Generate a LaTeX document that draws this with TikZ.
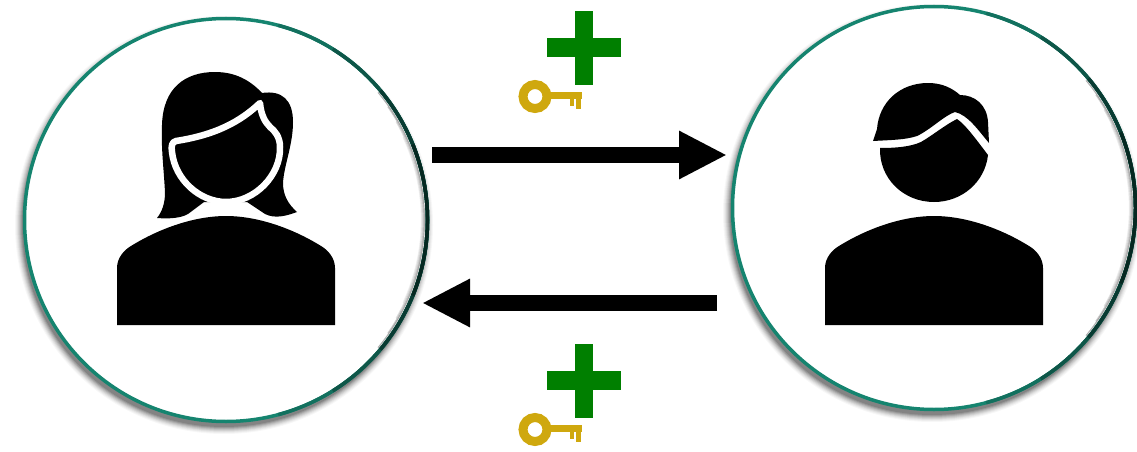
\documentclass[tikz,border=0pt]{standalone}
\usepackage{tikz}
\usetikzlibrary{arrows.meta,positioning,calc}
\usepackage{xcolor}
\definecolor{ringteal}{HTML}{15846F}
\definecolor{plusgreen}{HTML}{007F00}
\definecolor{keygold}{HTML}{CFA80E}

\begin{document}
\begin{tikzpicture}[
  x=1pt, y=-1pt,
  disc/.style={circle, draw=ringteal, fill=white, line width=3.5pt, minimum size=403pt, inner sep=0pt},
  silhouette/.style={fill=black},
  faceline/.style={draw=white, line width=6.5pt, line join=round},
  flow/.style={-{Triangle[length=48pt, width=45pt]}, line width=16pt},
  plusbar/.style={fill=plusgreen},
  keypart/.style={fill=keygold},
]
\useasboundingbox (0,0) rectangle (1137,452);

% ─── Soft shadows under the two circles ───
\foreach \r/\o in {209/.03,208/.04,207/.05,206/.07,205/.08,204/.10,203/.12,202/.14} {
  \fill[black, opacity=\o] (224,225) circle (\r);
  \fill[black, opacity=\o] (932,213) circle (\r);
}

% ─── Circles ───
\node[disc] (leftdisc) at (226,220) {};
\node[disc] (rightdisc) at (934,208) {};

% inner shade and darker rim towards the right
\foreach \cx/\cy in {226/220,934/208} {
  \foreach \r/\o/\a in {198.5/.30/40,197.5/.20/35,196.5/.12/30,195.5/.07/25} {
    \draw[black, opacity=\o, line width=1.2pt] (\cx,\cy) ++(-\a:\r) arc[start angle=-\a, end angle=\a, radius=\r];
  }
  \foreach \c/\a in {ringteal!85!black/75,ringteal!65!black/58,ringteal!45!black/40,ringteal!30!black/22} {
    \draw[\c, line width=3.5pt] (\cx,\cy) ++(-\a:201.5) arc[start angle=-\a, end angle=\a, radius=201.5];
  }
}

% ─── Left person ───
\fill[silhouette] (215,72) .. controls (185,72) and (163,88) .. (162,125)
  .. controls (161,150) and (164,170) .. (165,193) .. controls (165,203) and (162,212) .. (157,218)
  .. controls (170,219) and (181,218) .. (188,214) -- (204,202) -- (247,202) -- (265,214)
  .. controls (275,219) and (286,216) .. (297,212) .. controls (288,204) and (283,195) .. (283,183)
  .. controls (284,165) and (293,145) .. (293,122) .. controls (293,100) and (282,90) .. (262,93)
  .. controls (250,80) and (235,72) .. (215,72) -- cycle;
\draw[faceline] (260,103) .. controls (240,122) and (215,135) .. (176,141)
  .. controls (172,142) and (171,146) .. (172,152) .. controls (175,180) and (200,202) .. (226,202)
  .. controls (255,202) and (281,175) .. (280,147) .. controls (280,137) and (275,131) .. (270,127)
  .. controls (265,122) and (261,115) .. (260,103) -- cycle;
\fill[silhouette] (117,325) -- (117,268) .. controls (117,258) and (124,250) .. (131,246)
  .. controls (160,228) and (195,216) .. (226,216) .. controls (257,216) and (292,228) .. (321,246)
  .. controls (328,250) and (335,258) .. (335,268) -- (335,325) -- cycle;

% ─── Right person ───
\fill[silhouette] (873,141) -- (877,129) .. controls (879,102) and (900,83) .. (928,83)
  .. controls (942,83) and (952,88) .. (960,95) .. controls (975,95) and (987,105) .. (988,122)
  -- (989,143) .. controls (978,130) and (968,115) .. (955,112)
  .. controls (945,115) and (930,130) .. (917,136) .. controls (905,140) and (890,140) .. (873,141) -- cycle;
\fill[silhouette] (880,148) .. controls (895,148) and (910,147) .. (921,142)
  .. controls (933,135) and (945,125) .. (957,119) .. controls (966,125) and (978,142) .. (988,155)
  .. controls (985,182) and (962,202) .. (934,202) .. controls (903,202) and (879,178) .. (880,148) -- cycle;
\fill[silhouette] (825,325) -- (825,268) .. controls (825,258) and (832,250) .. (839,246)
  .. controls (868,228) and (903,216) .. (934,216) .. controls (965,216) and (1000,228) .. (1029,246)
  .. controls (1036,250) and (1043,258) .. (1043,268) -- (1043,325) -- cycle;

% ─── Arrows ───
\coordinate (topstart) at (432,155);
\coordinate (topend) at (727,155);
\coordinate (lowstart) at (717,303);
\coordinate (lowend) at (422,303);
\draw[flow] (topstart) -- (topend);
\draw[flow] (lowstart) -- (lowend);

% ─── Plus and key, twice ───
\foreach \dy in {0,333} {
\begin{scope}[shift={(0,\dy)}]
  \fill[plusbar] (575,11) rectangle (593,85);
  \fill[plusbar] (547,38) rectangle (621,57);
  \draw[keygold, line width=9pt] (535,96.5) circle (12);
  \fill[keypart] (546,92) rectangle (582,99);
  \fill[keypart] (570,99) rectangle (574,106);
  \fill[keypart] (576,99) rectangle (581,109);
\end{scope}
}

\end{tikzpicture}
\end{document}
